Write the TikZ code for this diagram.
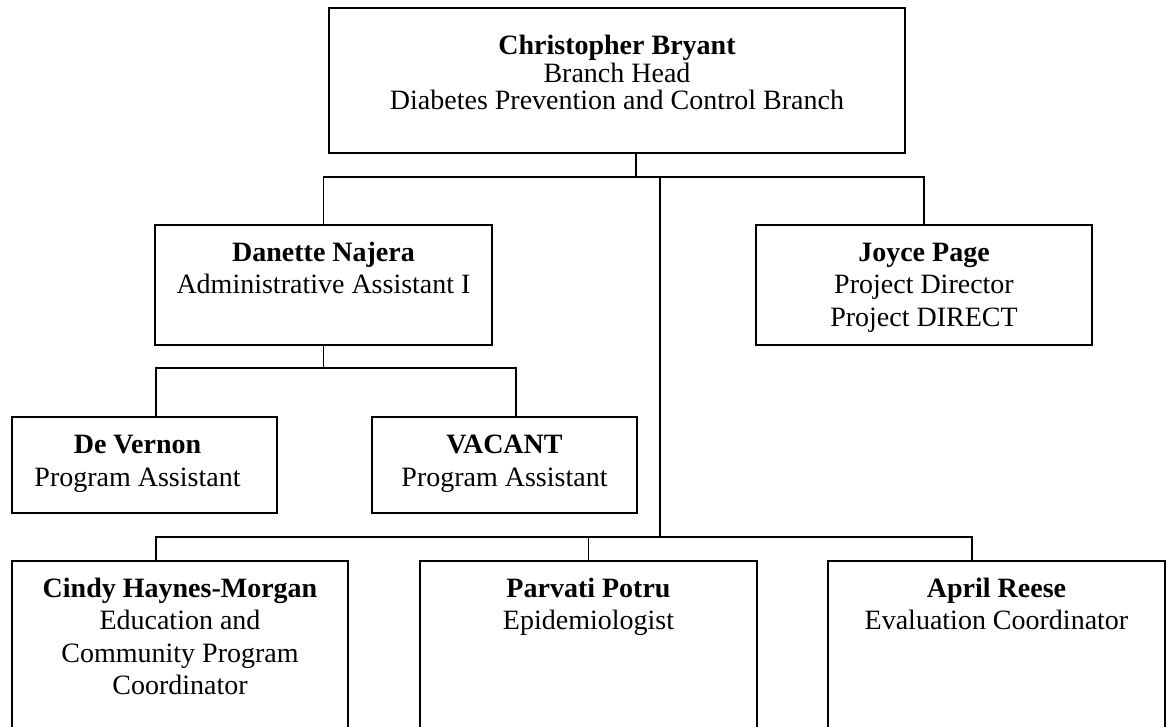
\documentclass[tikz,border=0pt]{standalone}
\usepackage{fontspec}
\setmainfont{Liberation Serif}
\newcommand{\fl}{\rule{0pt}{25pt}}
\tikzset{
  box/.style={draw=black, line width=1.9pt, inner sep=0pt, outer sep=0pt},
  conn/.style={draw=black, line width=1.4pt},
  txt/.style={inner sep=0pt, outer sep=0pt, align=center, anchor=north, font=\fontsize{28}{32.5}\selectfont},
  toptxt/.style={txt, font=\fontsize{28}{27.5}\selectfont},
}
\begin{document}
\begin{tikzpicture}[x=1pt,y=-1pt]
\useasboundingbox (0,0) rectangle (1171,727);
\clip (0,0) rectangle (1171,727);
% boxes
\node[box, minimum width=576pt, minimum height=145pt] (top) at (617,80.5) {};
\node[box, minimum width=337pt, minimum height=120pt] (dan) at (323.5,285) {};
\node[box, minimum width=336pt, minimum height=120pt] (joyce) at (924,285) {};
\node[box, minimum width=265pt, minimum height=96pt] (dev) at (144.5,465) {};
\node[box, minimum width=265pt, minimum height=96pt] (vac) at (504.5,465) {};
\node[box, minimum width=336pt, minimum height=200pt] (cindy) at (180,661) {};
\node[box, minimum width=337pt, minimum height=200pt] (parv) at (588.5,661) {};
\node[box, minimum width=337pt, minimum height=200pt] (april) at (996.5,661) {};
% texts
\node[toptxt] (topT) at ([yshift=-22pt]top.north) {\fl\textbf{Christopher Bryant}\\Branch Head\\Diabetes Prevention and Control Branch};
\node[txt] (danT) at ([yshift=-11.5pt]dan.north) {\fl\textbf{Danette Najera}\\Administrative Assistant I};
\node[txt] (joyT) at ([yshift=-11.5pt]joyce.north) {\fl\textbf{Joyce Page}\\Project Director\\Project DIRECT};
\node[txt] (devT) at ([xshift=-7pt,yshift=-11.5pt]dev.north) {\fl\textbf{De Vernon}\\Program Assistant};
\node[txt] (vacT) at ([yshift=-11.5pt]vac.north) {\fl\textbf{VACANT}\\Program Assistant};
\node[txt] (cinT) at ([yshift=-11pt]cindy.north) {\fl\textbf{Cindy Haynes-Morgan}\\Education and\\Community Program\\Coordinator};
\node[txt] (parT) at ([yshift=-11pt]parv.north) {\fl\textbf{Parvati Potru}\\Epidemiologist};
\node[txt] (aprT) at ([yshift=-11pt]april.north) {\fl\textbf{April Reese}\\Evaluation Coordinator};
% junctions
\coordinate (j1) at (636,177);
\coordinate (spine) at (660,177);
\coordinate (dk1) at (156,368);
\coordinate (dk2) at (516,368);
\coordinate (b1) at (156,537);
\coordinate (b3) at (972,537);
% connectors
\draw[conn] (top.south -| j1) -- (j1);
\draw[conn] (dan.north) -- (dan.north |- j1) -- (joyce.north |- j1) -- (joyce.north);
\draw[conn] (spine) -- (spine |- b1);
\draw[conn] (dan.south) -- (dan.south |- dk1);
\draw[conn] (dk1 |- dev.north) -- (dk1) -- (dk2) -- (dk2 |- vac.north);
\draw[conn] (b1 |- cindy.north) -- (b1) -- (b3) -- (b3 |- april.north);
\draw[conn] (parv.north) -- (parv.north |- b1);
\end{tikzpicture}
\end{document}
